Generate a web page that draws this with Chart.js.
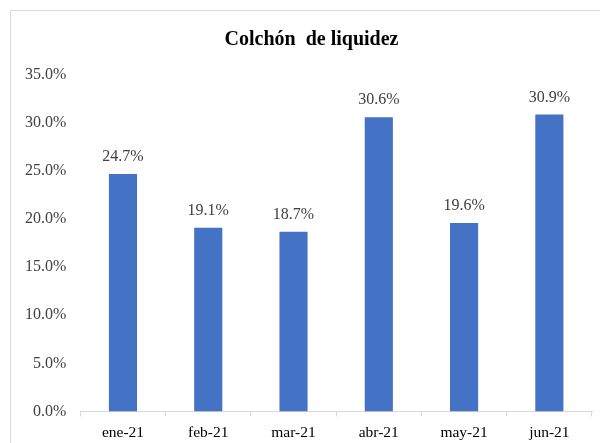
<!DOCTYPE html>
<html>
<head>
<meta charset="utf-8">
<script src="https://cdn.jsdelivr.net/npm/chart.js@4/dist/chart.umd.min.js"></script>
<style>
  body { margin: 0; background: #fff; }
  #wrap { position: relative; width: 600px; height: 443px; }
  #frame { position: absolute; left: 10px; top: 10px; width: 600px; height: 460px; border: 1px solid #d9d9d9; }
  #chart { position: absolute; left: 0; top: 0; }
</style>
</head>
<body>
<div id="wrap">
  <div id="frame"></div>
  <canvas id="chart" width="600" height="443"></canvas>
</div>
<script>
const months = ['ene-21', 'feb-21', 'mar-21', 'abr-21', 'may-21', 'jun-21'];
const liquidez = [0.247, 0.191, 0.187, 0.306, 0.196, 0.309];
const yMax = 0.35;
const yStep = 0.05;

const serif = "'Liberation Serif', 'Times New Roman', serif";

// labels on top of each bar
const barLabels = {
    id: 'barLabels',
    afterDatasetsDraw(chart) {
        const ctx = chart.ctx;
        const meta = chart.getDatasetMeta(0);
        ctx.save();
        ctx.font = '16px ' + serif;
        ctx.fillStyle = '#404040';
        ctx.textAlign = 'center';
        ctx.textBaseline = 'bottom';
        meta.data.forEach(function (bar, i) {
            ctx.fillText((liquidez[i] * 100).toFixed(1) + '%', bar.x, bar.y - 9);
        });
        ctx.restore();
    }
};

const LiquidezChart = document.getElementById('chart').getContext('2d');
new Chart(LiquidezChart, {
    type: 'bar',
    data: {
        labels: months,
        datasets: [{
            data: liquidez,
            backgroundColor: '#4472C4',
            barPercentage: 0.66,
            categoryPercentage: 0.5
        }]
    },
    options: {
        responsive: false,
        animation: false,
        layout: { padding: { top: 10, left: 11, right: 8, bottom: -6 } },
        plugins: {
            legend: { display: false },
            tooltip: { enabled: false },
            title: {
                display: true,
                text: '    Colchón  de liquidez',
                color: '#000',
                font: { family: serif, size: 20, weight: 'bold' },
                padding: { top: 18, bottom: 23 }
            }
        },
        scales: {
            y: {
                min: 0,
                max: yMax,
                ticks: {
                    stepSize: yStep,
                    color: '#404040',
                    font: { family: serif, size: 16 },
                    padding: 14,
                    callback: function (v) { return (v * 100).toFixed(1) + '%'; }
                },
                grid: { display: false, drawTicks: false },
                border: { display: false }
            },
            x: {
                ticks: {
                    color: '#000',
                    font: { family: serif, size: 15.5 },
                    padding: 7
                },
                grid: {
                    display: true,
                    offset: true,
                    drawOnChartArea: false,
                    tickLength: 5,
                    color: '#d9d9d9'
                },
                border: { display: true, color: '#d9d9d9' }
            }
        }
    },
    plugins: [barLabels]
});
</script>
</body>
</html>
